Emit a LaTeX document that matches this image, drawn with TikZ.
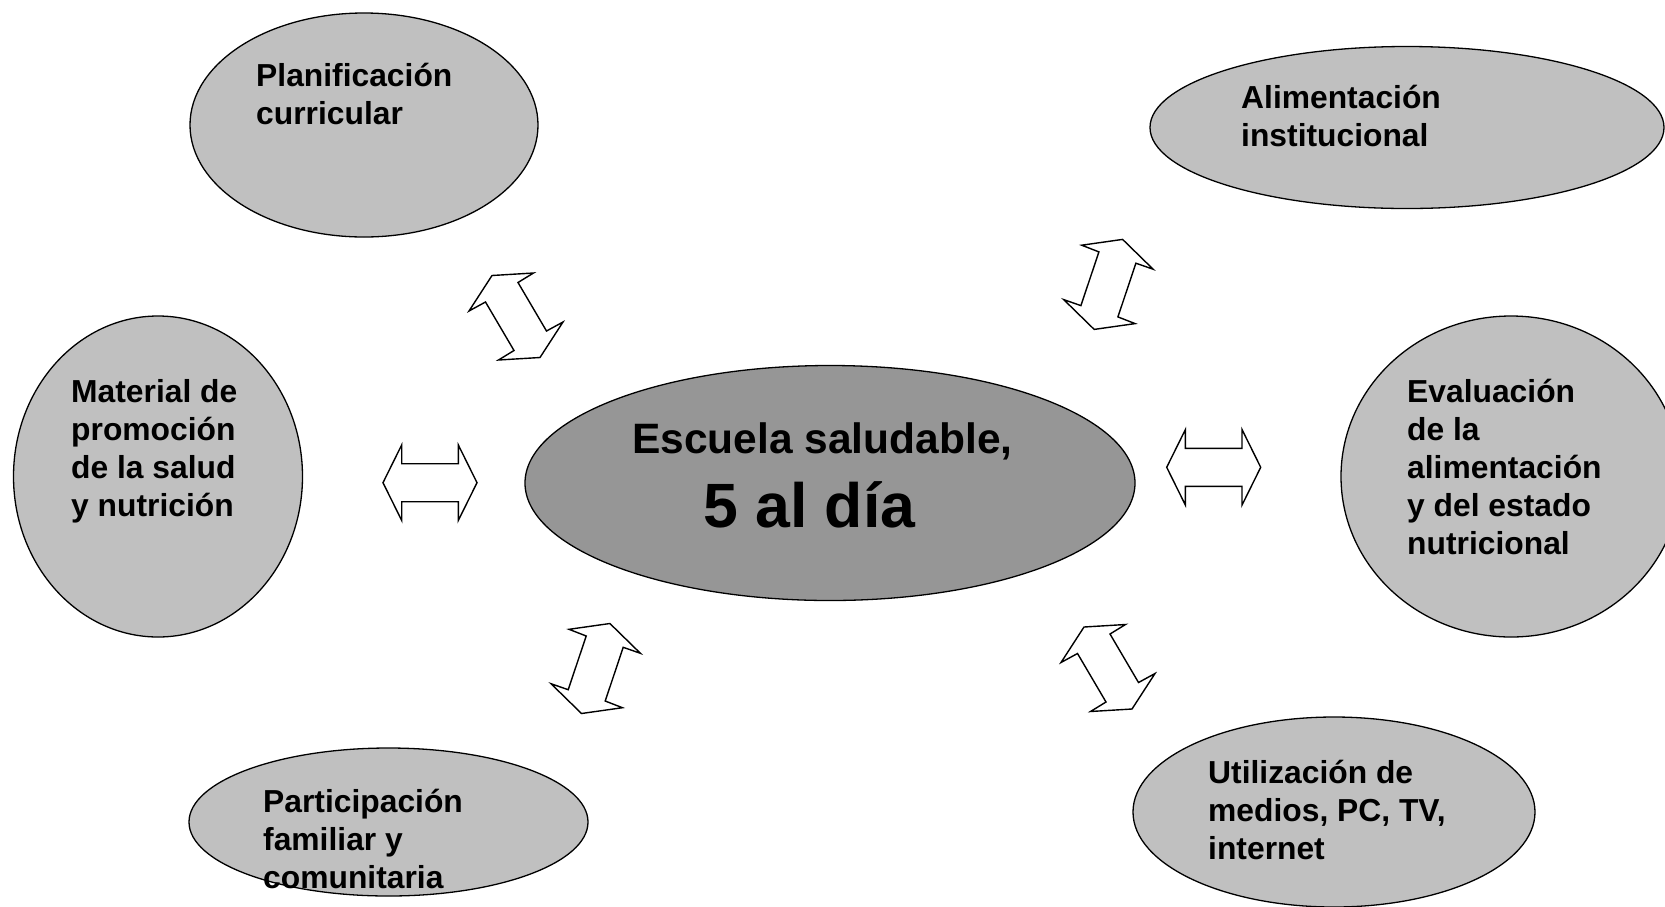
\documentclass[tikz,border=0pt]{standalone}
\usepackage{fontspec}
\setmainfont{Liberation Sans}
\usepackage{xcolor}
\usetikzlibrary{shapes.geometric}

\definecolor{bubblegray}{RGB}{192,192,192}
\definecolor{coregray}{RGB}{150,150,150}

\begin{document}
\begin{tikzpicture}[x=1pt,y=-1pt,
  bubble/.style={ellipse,draw,fill=bubblegray,line width=1.3pt,inner sep=0pt},
  lbl/.style={anchor=base west,align=left,inner sep=0pt,font=\bfseries\fontsize{31.8}{38}\selectfont},
  blockarrow/.style={draw,fill=white,line width=1.4pt,line join=miter},
  bothway/.pic={\draw[blockarrow] (-47,0) -- (-28.3,-37.8) -- (-28.3,-19) -- (28.3,-19) -- (28.3,-37.8)
      -- (47,0) -- (28.3,37.8) -- (28.3,19) -- (-28.3,19) -- (-28.3,37.8) -- cycle;},
  slantdown/.pic={\draw[blockarrow] (-47,-5.5) -- (-24,-41) -- (17.5,-43.5) -- (2,-34) -- (30.5,14.5)
      -- (47,5.5) -- (24,41) -- (-17.5,43.5) -- (-2,34) -- (-30.5,-14.5) -- cycle;},
  slantup/.pic={\draw[blockarrow] (-26.7,-39.2) -- (14.2,-45) -- (44.7,-15.2) -- (27.5,-21.2) -- (9.5,32.5)
      -- (26.7,39.2) -- (-14.2,45) -- (-44.7,15.2) -- (-27.5,21.2) -- (-9.5,-32.5) -- cycle;}]
\clip (0,0) rectangle (1665,906);

% the bubbles
\node[bubble,fill=coregray,minimum width=610pt,minimum height=235pt] (escuela) at (830,483) {};
\node[bubble,minimum width=348pt,minimum height=224pt] (plan) at (364,125) {};
\node[bubble,minimum width=514pt,minimum height=162pt] (alim) at (1407,127.5) {};
\node[bubble,minimum width=289pt,minimum height=321pt] (material) at (158,476.5) {};
\node[bubble,minimum width=340pt,minimum height=321pt] (eval) at (1511,476.5) {};
\node[bubble,minimum width=399pt,minimum height=148pt] (partic) at (388.5,822) {};
\node[bubble,minimum width=402pt,minimum height=190pt] (util) at (1334,812) {};

% texts (placed at the baseline of their last line)
\node[anchor=base west,inner sep=0pt,font=\bfseries\fontsize{42.5}{50}\selectfont] (titulo) at (632,453) {Escuela saludable,};
\node[anchor=base west,inner sep=0pt,font=\bfseries\fontsize{62.6}{70}\selectfont] (lema) at (703,527) {5 al día};
\node[lbl] (plantxt) at (256,124) {Planificación\\curricular};
\node[lbl] (alimtxt) at (1241,146) {Alimentación\\institucional};
\node[lbl] (materialtxt) at (71,516) {Material de\\promoción\\de la salud\\y nutrición};
\node[lbl] (evaltxt) at (1407,554) {Evaluación\\de la\\alimentación\\y del estado\\nutricional};
\node[lbl] (partictxt) at (263,888) {Participación\\familiar y\\comunitaria};
\node[lbl] (utiltxt) at (1208,859) {Utilización de\\medios, PC, TV,\\internet};

% the double arrows
\pic at (516,316.5) {slantdown};
\pic at (1108.4,284.4) {slantup};
\pic at (430,482.7) {bothway};
\pic at (1213.7,467.3) {bothway};
\pic at (595.7,668.5) {slantup};
\pic at (1108,668) {slantdown};
\end{tikzpicture}
\end{document}
